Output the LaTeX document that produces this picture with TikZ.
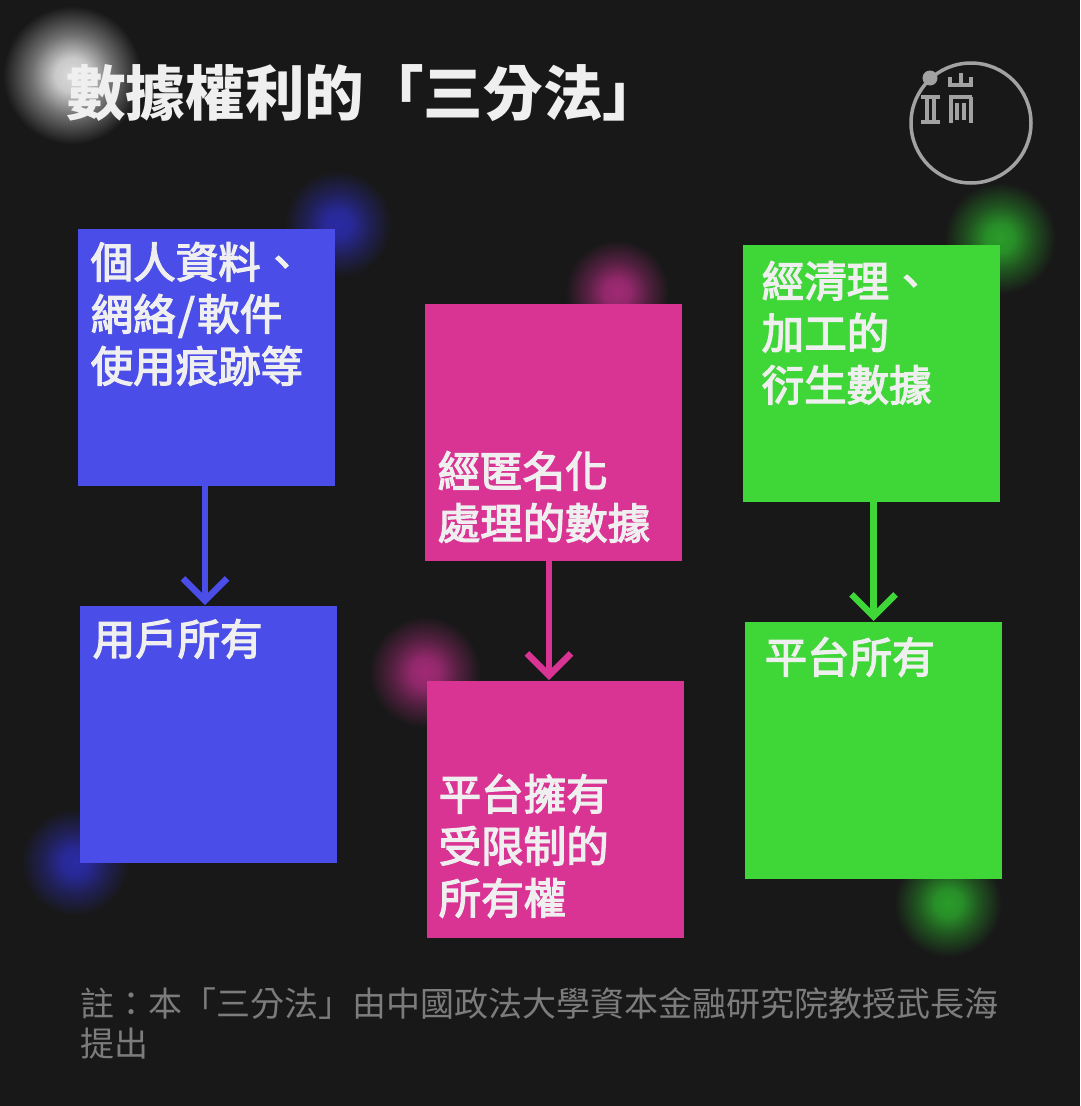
\documentclass[tikz,border=0pt]{standalone}
\usepackage{fontspec}
\setmainfont{Noto Sans CJK TC}
\newfontfamily\medfont[FakeBold=3]{Noto Sans CJK TC}
\usetikzlibrary{arrows.meta}
\definecolor{bgdark}{HTML}{181818}
\definecolor{inkwhite}{HTML}{EFEFEF}
\definecolor{inkgray}{HTML}{7C7C7C}
\definecolor{logogray}{HTML}{A2A2A2}
\definecolor{userblue}{HTML}{4A4DE8}
\definecolor{anonpink}{HTML}{D93393}
\definecolor{derivgreen}{HTML}{3FD638}
\definecolor{glowwhite}{HTML}{DCDCDC}
\definecolor{glowblue}{HTML}{2A2AA4}
\definecolor{glowpink}{HTML}{A02A74}
\definecolor{glowgreen}{HTML}{2A9C2A}
\newcommand{\newglow}[1]{\pgfdeclareradialshading{#1}{\pgfpointorigin}{color(0bp)=(#1); color(6bp)=(#1!90!bgdark); color(14bp)=(#1!45!bgdark); color(24bp)=(bgdark); color(50bp)=(bgdark)}}
\newglow{glowwhite}
\newglow{glowblue}
\newglow{glowpink}
\newglow{glowgreen}
\tikzset{
  sheet/.style={fill=#1, minimum size=257pt, inner sep=0pt, outer sep=0pt, anchor=north west},
  sheettext/.style={text=inkwhite, font=\fontsize{42.5}{52}\medfont\selectfont, align=left, anchor=north west, inner sep=0pt},
  flow/.style={draw=#1, line width=6.5pt, -{Straight Barb[length=22pt,width=44pt,line width=6.5pt]}, shorten >=1pt},
  logoline/.style={draw=logogray, line width=4pt}
}
\begin{document}
\begin{tikzpicture}[x=1pt,y=-1pt]
    \useasboundingbox (0,0) rectangle (1080,1106);
    \fill[bgdark] (0,0) rectangle (1080,1106);
    % Glows
    \foreach \x/\y/\r/\g in {72/75/72/glowwhite, 338/224/56/glowblue, 75/862/56/glowblue,
        617/292/54/glowpink, 425/672/58/glowpink, 1000/238/58/glowgreen, 948/903/56/glowgreen}
        \shade[shading=\g] (\x,\y) circle (\r);
    % Title
    \node[text=inkwhite, font=\fontsize{59.6}{70}\bfseries\selectfont, anchor=west, inner sep=0pt] (title) at (66,93) {數據權利的「三分法」};
    % Logo
    \node[draw=logogray, line width=3.5pt, circle, minimum size=120pt, inner sep=0pt] (logoring) at (971,123) {};
    \node[fill=logogray, circle, minimum size=15pt, inner sep=0pt] (logodot) at (930,78) {};
    \draw[logoline] (921,97) -- (940,97) (921,122) -- (940,122) (927,97) -- (927,122) (933.5,97) -- (933.5,122);
    \draw[logoline] (950,77) -- (950,85) -- (971,85) -- (971,77) (960.5,73) -- (960.5,85);
    \draw[logoline] (949,97) -- (972,97) (950.5,97) -- (950.5,123) (970.5,97) -- (970.5,123) (957,103) -- (957,120) (964,103) -- (964,120);
    % Boxes
    \node[sheet=userblue] (rawdata) at (78,229) {};
    \node[sheet=userblue] (userowned) at (80,606) {};
    \node[sheet=anonpink] (anondata) at (425,304) {};
    \node[sheet=anonpink] (platformlimited) at (427,681) {};
    \node[sheet=derivgreen] (deriveddata) at (743,245) {};
    \node[sheet=derivgreen] (platformowned) at (745,622) {};
    % Box texts
    \node[sheettext] (rawtext) at (90.5,242) {個人資料、\\網絡\kern2.5pt/\kern2.5pt軟件\\使用痕跡等};
    \node[sheettext] (usertext) at (92.5,619) {用戶所有};
    \node[sheettext] (anontext) at (437.5,451) {經匿名化\\處理的數據};
    \node[sheettext] (limitedtext) at (438.5,774) {平台擁有\\受限制的\\所有權};
    \node[sheettext] (derivedtext) at (761.5,261) {經清理、\\加工的\\衍生數據};
    \node[sheettext] (ownedtext) at (764.5,637) {平台所有};
    % Arrows
    \draw[flow=userblue] ([xshift=-1.5pt]rawdata.south) -- ([xshift=-1.5pt]rawdata.south |- userowned.north);
    \draw[flow=anonpink] ([xshift=-4.5pt]anondata.south) -- ([xshift=-4.5pt]anondata.south |- platformlimited.north);
    \draw[flow=derivgreen] ([xshift=2pt]deriveddata.south) -- ([xshift=2pt]deriveddata.south |- platformowned.north);
    % Note
    \node[text=inkgray, font=\fontsize{34}{40}\selectfont, align=left, anchor=north west, inner sep=0pt] (note) at (80,987) {註：本「三分法」由中國政法大學資本金融研究院教授武長海\\提出};
\end{tikzpicture}
\end{document}
